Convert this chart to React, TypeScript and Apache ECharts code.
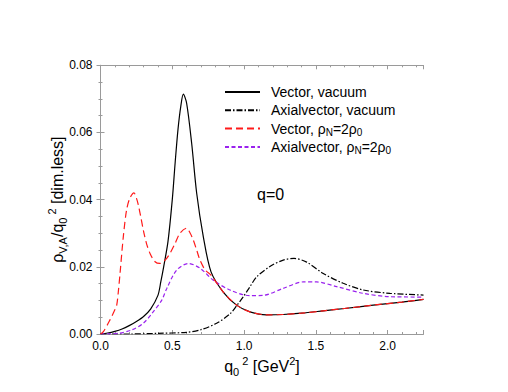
import React, { useEffect, useRef } from "react";
import * as echarts from "echarts";

// ---- data ----
const xVecVac = [0, 0.05, 0.1, 0.15, 0.2, 0.25, 0.3, 0.35, 0.4, 0.42, 0.44, 0.47, 0.5, 0.52, 0.54, 0.56, 0.577, 0.6, 0.635, 0.67, 0.716, 0.77, 0.855, 0.948, 1.041, 1.157, 1.273, 1.4, 1.552, 1.7, 1.9, 2.1, 2.25];
const yVecVac = [0, 0.0003, 0.0008, 0.0015, 0.0025, 0.0037, 0.0052, 0.0075, 0.0115, 0.0155, 0.02, 0.0275, 0.04, 0.051, 0.061, 0.068, 0.0714, 0.0687, 0.0568, 0.0419, 0.029, 0.0185, 0.0125, 0.0086, 0.0066, 0.0057, 0.0058, 0.0062, 0.0069, 0.0076, 0.0086, 0.0095, 0.0103];

const xAxVac = [0, 0.2, 0.4, 0.6, 0.7, 0.809, 0.902, 0.95, 0.995, 1.04, 1.088, 1.18, 1.273, 1.348, 1.436, 1.552, 1.691, 1.831, 2.016, 2.25];
const yAxVac = [0, 0, 0.0002, 0.0005, 0.0013, 0.0032, 0.006, 0.0085, 0.0111, 0.014, 0.017, 0.0201, 0.022, 0.0225, 0.0214, 0.018, 0.0151, 0.0131, 0.0121, 0.0116];

const xVecMed = [0, 0.02, 0.066, 0.1, 0.113, 0.124, 0.136, 0.159, 0.182, 0.205, 0.233, 0.25, 0.263, 0.28, 0.298, 0.32, 0.345, 0.38, 0.414, 0.45, 0.484, 0.52, 0.554, 0.6, 0.625, 0.646, 0.67, 0.693, 0.73, 0.77, 0.855, 0.948, 1.041, 1.157, 1.273, 1.4, 1.552, 1.7, 1.9, 2.1, 2.25];
const yVecMed = [0, 0.0007, 0.0042, 0.0072, 0.0086, 0.0125, 0.018, 0.029, 0.037, 0.0405, 0.042, 0.0405, 0.0385, 0.035, 0.031, 0.027, 0.024, 0.0215, 0.021, 0.022, 0.024, 0.027, 0.03, 0.0315, 0.03, 0.028, 0.025, 0.022, 0.019, 0.0175, 0.0125, 0.0086, 0.0066, 0.0057, 0.0058, 0.0062, 0.0069, 0.0076, 0.0086, 0.0095, 0.0103];

const xAxMed = [0, 0.124, 0.217, 0.298, 0.36, 0.427, 0.461, 0.53, 0.612, 0.693, 0.786, 0.902, 1.041, 1.134, 1.273, 1.413, 1.505, 1.645, 1.831, 2.016, 2.25];
const yAxMed = [0, 0.0002, 0.0012, 0.0032, 0.0062, 0.0101, 0.0135, 0.019, 0.021, 0.0196, 0.016, 0.0131, 0.0114, 0.0115, 0.0136, 0.0155, 0.0155, 0.0141, 0.0121, 0.0111, 0.011];

const seriesNames = [
  "Vector, vacuum",
  "Axialvector, vacuum",
  "Vector, ρN=2ρ0",
  "Axialvector, ρN=2ρ0",
];

const xTicks = [0, 0.5, 1.0, 1.5, 2.0];
const yTicks = [0, 0.02, 0.04, 0.06, 0.08];

const zip = (xs: number[], ys: number[]) => xs.map((x, i) => [x, ys[i]]);

const FONT = "'Liberation Sans', Arial, Helvetica, sans-serif";
const AXIS_COLOR = "#9a9a9a";

export default function App() {
  const ref = useRef<HTMLDivElement>(null);
  useEffect(() => {
    if (!ref.current) return;
    const chart = echarts.init(ref.current, undefined, { renderer: "svg" });

    const nameRich = {
      m: { fontSize: 16, lineHeight: 22, color: "#000", fontFamily: FONT },
      s: { fontSize: 11, lineHeight: 8, verticalAlign: "bottom", color: "#000", fontFamily: FONT },
      p: { fontSize: 11, lineHeight: 9, verticalAlign: "top", color: "#000", fontFamily: FONT, padding: [0, 0, 0, 3] },
      t: { fontSize: 11, lineHeight: 9, verticalAlign: "top", color: "#000", fontFamily: FONT },
    };

    const isMajorX = (v: number) => xTicks.some((t) => Math.abs(t - v) < 1e-6);
    const isMajorY = (v: number) => yTicks.some((t) => Math.abs(t - v) < 1e-9);

    const baseX = {
      type: "value",
      min: 0,
      max: 2.25,
      splitLine: { show: false },
      axisLine: { show: true, lineStyle: { color: AXIS_COLOR, width: 1 } },
    };
    const baseY = {
      type: "value",
      min: 0,
      max: 0.08,
      interval: 0.02,
      splitLine: { show: false },
      axisLine: { show: true, lineStyle: { color: AXIS_COLOR, width: 1 } },
      axisTick: { inside: true, length: 4, lineStyle: { color: AXIS_COLOR } },
      minorTick: { show: true, splitNumber: 4, length: 2, lineStyle: { color: AXIS_COLOR } },
    };

    const lineSeries = (name: string, data: number[][], color: string, type: any, z: number) => ({
      name,
      type: "line",
      data,
      xAxisIndex: 0,
      yAxisIndex: 0,
      showSymbol: false,
      symbol: "none",
      smooth: 0.3,
      z,
      lineStyle: { color, width: 1.2, type },
      itemStyle: { color },
    });

    chart.setOption({
      animation: false,
      backgroundColor: "#fff",
      textStyle: { fontFamily: FONT },
      grid: {
        left: 100.5,
        right: 84.5,
        top: 65.3,
        bottom: 58,
        containLabel: false,
        outerBoundsMode: "none",
      },
      legend: {
        show: true,
        orient: "vertical",
        left: 224,
        top: 83,
        padding: 0,
        itemWidth: 35,
        itemHeight: 14,
        itemGap: 0.3,
        data: seriesNames,
        itemStyle: { opacity: 0, color: "transparent", borderColor: "transparent", borderWidth: 0 },
        formatter: (name: string) => name.replace("ρN=2ρ0", "ρ{s|N}=2ρ{s|0}"),
        textStyle: {
          fontSize: 14,
          lineHeight: 18,
          color: "#000",
          fontFamily: FONT,
          padding: [0, 0, 0, 6],
          rich: {
            s: { fontSize: 10, lineHeight: 8, verticalAlign: "bottom", color: "#000", fontFamily: FONT },
          },
        },
      },
      xAxis: [
        {
          ...baseX,
          position: "bottom",
          interval: 0.5,
          axisTick: { inside: true, length: 4, lineStyle: { color: AXIS_COLOR } },
          axisLabel: {
            color: "#000",
            fontSize: 12,
            margin: 6,
            fontFamily: FONT,
            formatter: (v: number) => (isMajorX(v) ? v.toFixed(1) : ""),
          },
          name: "{m|q}{s|0}{p|2}{m| [GeV}{t|2}{m|]}",
          nameLocation: "middle",
          nameGap: 21,
          nameMoveOverlap: false,
          nameTextStyle: { rich: nameRich },
        },
        {
          ...baseX,
          position: "bottom",
          interval: 0.1,
          axisLine: { show: false },
          axisTick: { inside: true, length: 2, lineStyle: { color: AXIS_COLOR } },
          axisLabel: { show: false },
        },
        {
          ...baseX,
          position: "top",
          interval: 0.5,
          axisTick: { inside: true, length: 4, lineStyle: { color: AXIS_COLOR } },
          axisLabel: { show: false },
        },
        {
          ...baseX,
          position: "top",
          interval: 0.1,
          axisLine: { show: false },
          axisTick: { inside: true, length: 2, lineStyle: { color: AXIS_COLOR } },
          axisLabel: { show: false },
        },
      ],
      yAxis: [
        {
          ...baseY,
          position: "left",
          axisLabel: {
            color: "#000",
            fontSize: 12,
            margin: 8,
            fontFamily: FONT,
            formatter: (v: number) => (isMajorY(v) ? v.toFixed(2) : ""),
          },
          name: "{m|ρ}{s|V,A}{m|/q}{s|0}{p|2}{m| [dim.less]}",
          nameLocation: "middle",
          nameGap: 32,
          nameMoveOverlap: false,
          nameTextStyle: { rich: nameRich },
        },
        {
          ...baseY,
          position: "right",
          axisLabel: { show: false },
        },
      ],
      graphic: [
        {
          type: "text",
          x: 257,
          y: 194,
          style: {
            text: "q=0",
            fontSize: 16,
            fontFamily: FONT,
            fill: "#000",
            verticalAlign: "middle",
          },
        },
      ],
      series: [
        lineSeries(seriesNames[0], zip(xVecVac, yVecVac), "#000000", "solid", 2),
        lineSeries(seriesNames[1], zip(xAxVac, yAxVac), "#000000", [6, 2, 1.5, 2], 3),
        lineSeries(seriesNames[2], zip(xVecMed, yVecMed), "#ff1a1a", [7, 4], 5),
        lineSeries(seriesNames[3], zip(xAxMed, yAxMed), "#9a22ee", [4, 2.5], 4),
      ],
    });

    return () => chart.dispose();
  }, []);

  return (
    <div
      ref={ref}
      style={{ position: "fixed", left: 0, top: 0, width: 508, height: 392, background: "#fff" }}
    />
  );
}
